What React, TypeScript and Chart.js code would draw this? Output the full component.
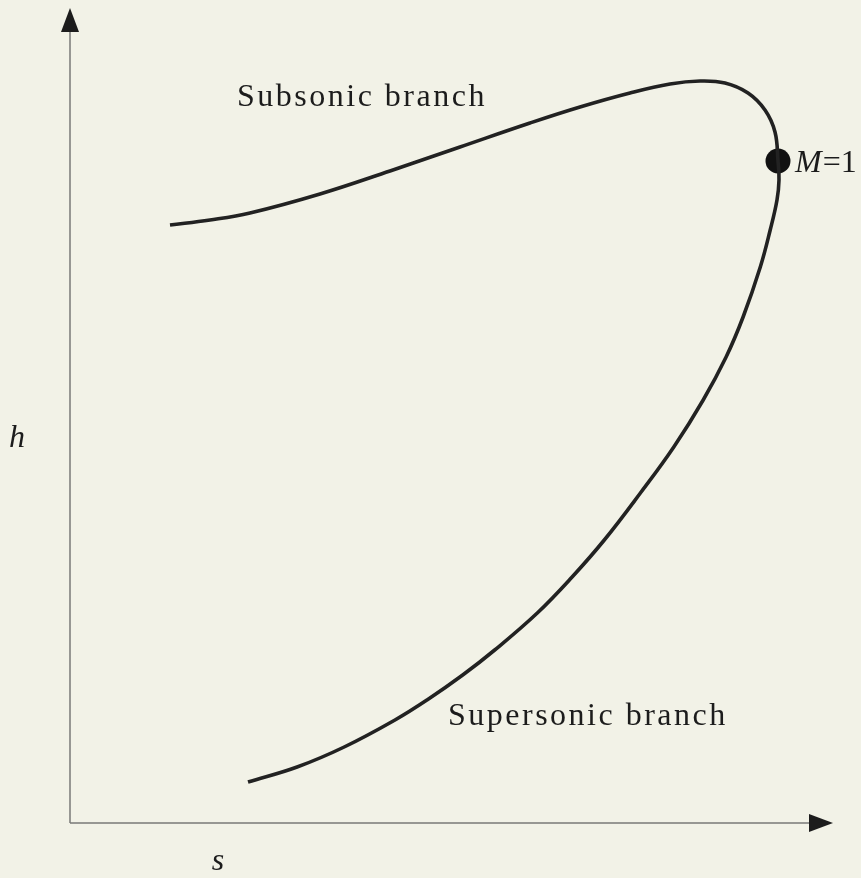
import React, { useEffect, useRef } from "react";
import { Chart, registerables } from "chart.js";

Chart.register(...registerables);

// Entropy s and enthalpy h (arbitrary units), axis origin at (0, 0)
const subsonicS = [10.0, 14.0, 18.0, 25.0, 32.0, 39.0, 46.0, 51.0, 56.0, 60.0, 63.0, 65.5, 67.8, 69.5, 70.5];
const subsonicH = [59.8, 60.3, 61.0, 62.9, 65.2, 67.6, 70.0, 71.6, 73.0, 73.9, 74.2, 74.0, 73.0, 71.3, 69.1];
const sonicS = [70.8];
const sonicH = [66.2];
const supersonicS = [
  70.9, 70.7, 70.02, 69.03, 67.31, 65.61, 63.32, 60.38, 57.04, 53.43, 50.21, 46.73, 42.47,
  39.27, 35.7, 32.5, 27.42, 22.71, 17.8,
];
const supersonicH = [
  64.3, 62.3, 59.3, 55.6, 50.6, 46.6, 42.3, 37.6, 33.0, 28.3, 24.6, 21.0, 17.3, 14.8, 12.3,
  10.3, 7.6, 5.6, 4.1,
];

const labelTexts = ["Subsonic branch", "Supersonic branch", "M", "=1", "h", "s"];
const labelS = [16.7, 37.8, 72.5, 0, -6.1, 14.8];
const labelH = [71.7, 9.8, 65.1, 0, 37.6, -4.7];

const axisEndS = 76.3;
const axisEndH = 81.5;

const BG = "#f2f2e7";
const INK = "#1c1c1c";
const AXIS = "#7a7a78";
const FONT = '"Liberation Serif", "Times New Roman", serif';

const decorPlugin = {
  id: "decor",
  beforeDraw(chart: any) {
    const { ctx, width, height } = chart;
    ctx.save();
    ctx.fillStyle = BG;
    ctx.fillRect(0, 0, width, height);
    ctx.restore();
  },
  beforeDatasetsDraw(chart: any) {
    const { ctx } = chart;
    const xs = chart.scales.x;
    const ys = chart.scales.y;
    const ox = xs.getPixelForValue(0);
    const oy = ys.getPixelForValue(0);
    const ex = xs.getPixelForValue(axisEndS);
    const ey = ys.getPixelForValue(axisEndH);
    const L = 24;
    const W = 9;
    ctx.save();
    ctx.strokeStyle = AXIS;
    ctx.lineWidth = 1.5;
    ctx.beginPath();
    ctx.moveTo(ox, oy);
    ctx.lineTo(ox, ey + L);
    ctx.moveTo(ox, oy);
    ctx.lineTo(ex - L, oy);
    ctx.stroke();
    ctx.fillStyle = INK;
    ctx.beginPath();
    ctx.moveTo(ox, ey);
    ctx.lineTo(ox - W, ey + L);
    ctx.lineTo(ox + W, ey + L);
    ctx.closePath();
    ctx.fill();
    ctx.beginPath();
    ctx.moveTo(ex, oy);
    ctx.lineTo(ex - L, oy - W);
    ctx.lineTo(ex - L, oy + W);
    ctx.closePath();
    ctx.fill();
    ctx.restore();
  },
  afterDatasetsDraw(chart: any) {
    const { ctx } = chart;
    const xs = chart.scales.x;
    const ys = chart.scales.y;
    const px = (i: number) => xs.getPixelForValue(labelS[i]);
    const py = (i: number) => ys.getPixelForValue(labelH[i]);
    ctx.save();
    ctx.fillStyle = INK;
    ctx.textBaseline = "alphabetic";
    ctx.textAlign = "left";
    ctx.font = "32px " + FONT;
    (ctx as any).letterSpacing = "2.5px";
    ctx.fillText(labelTexts[0], px(0), py(0));
    ctx.fillText(labelTexts[1], px(1), py(1));
    (ctx as any).letterSpacing = "0px";
    ctx.font = "italic 32px " + FONT;
    const mx = px(2);
    const my = py(2);
    ctx.fillText(labelTexts[2], mx, my);
    const mw = ctx.measureText(labelTexts[2]).width;
    ctx.font = "32px " + FONT;
    ctx.fillText(labelTexts[3], mx + mw + 1, my);
    ctx.font = "italic 32px " + FONT;
    ctx.fillText(labelTexts[4], px(4), py(4));
    ctx.textAlign = "center";
    ctx.fillText(labelTexts[5], px(5), py(5));
    ctx.restore();
  },
};

export default function App() {
  const ref = useRef<HTMLCanvasElement | null>(null);
  useEffect(() => {
    let chart: Chart | null = null;
    let cancelled = false;
    const build = () => {
      if (cancelled || !ref.current) return;
      const allS = [...subsonicS, ...sonicS, ...supersonicS];
      const allH = [...subsonicH, ...sonicH, ...supersonicH];
      chart = new Chart(ref.current, {
        type: "scatter",
        data: {
          datasets: [
            {
              data: allS.map((s, i) => ({ x: s, y: allH[i] })),
              showLine: true,
              borderColor: "#222222",
              borderWidth: 3.6,
              pointRadius: 0,
              tension: 0.4,
              fill: false,
            },
            {
              data: sonicS.map((s, i) => ({ x: s, y: sonicH[i] })),
              pointRadius: 12.5,
              pointBackgroundColor: "#111111",
              pointBorderColor: "#111111",
              pointBorderWidth: 0,
            },
          ],
        },
        options: {
          responsive: false,
          animation: false,
          devicePixelRatio: 1,
          layout: { padding: 0, autoPadding: false },
          plugins: { legend: { display: false }, tooltip: { enabled: false } },
          events: [],
          scales: {
            x: { type: "linear", display: false, min: -7, max: 79.1 },
            y: { type: "linear", display: false, min: -5.5, max: 82.3 },
          },
        },
        plugins: [decorPlugin],
      });
    };
    const fonts = (document as any).fonts;
    if (fonts && fonts.load) {
      Promise.all([
        fonts.load('32px "Liberation Serif"'),
        fonts.load('italic 32px "Liberation Serif"'),
      ]).then(build, build);
    } else {
      build();
    }
    return () => {
      cancelled = true;
      if (chart) chart.destroy();
    };
  }, []);
  return (
    <div style={{ position: "fixed", left: 0, top: 0, width: 861, height: 878, background: BG }}>
      <canvas ref={ref} width={861} height={878} style={{ display: "block" }} />
    </div>
  );
}
